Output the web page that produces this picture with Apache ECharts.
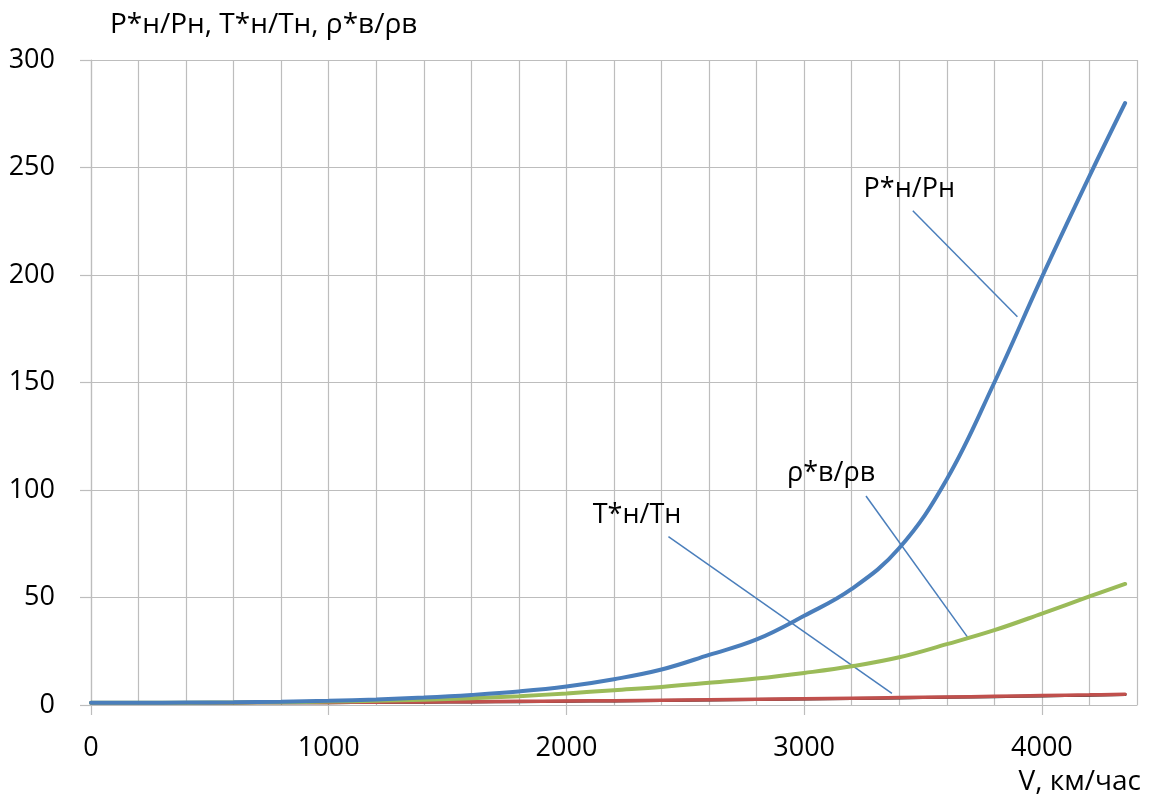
<!DOCTYPE html>
<html>
<head>
<meta charset="utf-8">
<script src="https://cdn.jsdelivr.net/npm/echarts@6/dist/echarts.min.js"></script>
<style>html,body{margin:0;padding:0;background:#fff;}#c{width:1149px;height:798px;}</style>
</head>
<body>
<div id="c"></div>
<script>
// Speeds, km/h
var speeds = [0,200,400,600,800,1000,1200,1400,1600,1800,2000,2200,2400,2600,2800,3000,3200,3400,3600,3800,4000,4200,4350];
// P*н/Pн
var pressureRatio = [1.0,1.03,1.12,1.28,1.55,2.0,2.6,3.5,4.7,6.3,8.6,12.0,16.5,23.3,30.5,41.5,54,73,105,150,199,246,280];
// ρ*в/ρв
var densityRatio = [1.0,1.02,1.08,1.18,1.33,1.6,1.95,2.45,3.15,4.1,5.4,6.9,8.4,10.3,12.3,14.9,18.0,22.2,28.3,34.8,42.5,50.5,56.3];
// T*н/Tн
var tempRatio = [1.0,1.01,1.03,1.08,1.14,1.21,1.3,1.42,1.54,1.69,1.85,2.02,2.22,2.43,2.66,2.9,3.17,3.45,3.74,4.05,4.38,4.72,5.05];
// dark companion curve under T*н/Tн
var darkCurve = [0.9,0.91,0.93,0.97,1.03,1.1,1.19,1.3,1.42,1.56,1.72,1.89,2.08,2.29,2.51,2.75,3.01,3.29,3.58,3.89,4.21,4.54,4.85];

var xTicks = [0,1000,2000,3000,4000];

// annotation labels and leader lines (data coordinates)
var labelP = {text:'P*н/Pн', at:[3442,240]};
var labelT = {text:'T*н/Tн', at:[2297,88.4]};
var labelR = {text:'ρ*в/ρв', at:[3113,107.9]};
var leaderP = [[3457,229.9],[3897,180.6]];
var leaderT = [[2429,78.3],[3369,5.4]];
var leaderR = [[3260,97.2],[3691,31]];

function zip(xs, ys){ return xs.map(function(x,i){return [x, ys[i]];}); }

var FONT = 'Open Sans';
var gridColor = '#bdbdbd';
var leaderColor = '#4a7ebb';
var textColor = '#000';

function curve(name, ys, color, width, z){
  return {name:name, type:'line', data:zip(speeds, ys), showSymbol:false, smooth:0.4,
    lineStyle:{color:color, width:width, cap:'round'}, z:z, silent:true};
}
function leader(pts){
  return {type:'line', data:pts, showSymbol:false, lineStyle:{color:leaderColor, width:1.5}, z:1, silent:true};
}
function lbl(l){
  return {type:'scatter', data:[l.at], symbolSize:0, silent:true, z:5, itemStyle:{opacity:1},
    label:{show:true, position:'inside', formatter:l.text, color:textColor, opacity:1, fontFamily:FONT, fontSize:27, textBorderWidth:0}};
}

var chart = echarts.init(document.getElementById('c'), null, {renderer:'canvas'});
chart.setOption({
  animation:false,
  backgroundColor:'#fff',
  title:{text:'P*н/Pн, T*н/Tн, ρ*в/ρв', left:105, top:6,
    textStyle:{fontFamily:FONT, fontSize:28, fontWeight:'normal', color:textColor}},
  graphic:[{type:'text', right:8, bottom:2,
    style:{text:'V, км/час', font:'28px "Open Sans"', fill:textColor}}],
  grid:{left:91, top:60, right:12, bottom:93, containLabel:false},
  xAxis:[{type:'value', min:0, max:4400, interval:1000, position:'bottom',
    axisLine:{show:true, lineStyle:{color:gridColor, width:1.2}},
    axisTick:{show:true, length:10, customValues:xTicks, lineStyle:{color:gridColor, width:1.2}},
    axisLabel:{customValues:xTicks, margin:30, fontFamily:FONT, fontSize:27, color:textColor,
      formatter:function(v){return String(v);}},
    splitLine:{show:false}},
   {type:'value', min:0, max:4400, interval:200, position:'bottom', offset:0,
    axisLine:{show:false}, axisTick:{show:false}, axisLabel:{show:false},
    splitLine:{show:true, lineStyle:{color:gridColor, width:1.2}}}],
  yAxis:{type:'value', min:0, max:300, interval:50,
    axisLine:{show:true, lineStyle:{color:gridColor, width:1.2}},
    axisTick:{show:true, length:11, lineStyle:{color:gridColor, width:1.2}},
    axisLabel:{margin:36, fontFamily:FONT, fontSize:27, color:textColor},
    splitLine:{show:true, lineStyle:{color:gridColor, width:1.2}}},
  series:[
    leader(leaderP), leader(leaderT), leader(leaderR),
    curve('dark', darkCurve, '#222222', 3, 2),
    curve('T*н/Tн', tempRatio, '#c0504d', 3.5, 3),
    curve('ρ*в/ρв', densityRatio, '#9bbb59', 4, 3),
    curve('P*н/Pн', pressureRatio, '#4a7ebb', 4, 4),
    lbl(labelP), lbl(labelT), lbl(labelR)
  ]
});
</script>
</body>
</html>
